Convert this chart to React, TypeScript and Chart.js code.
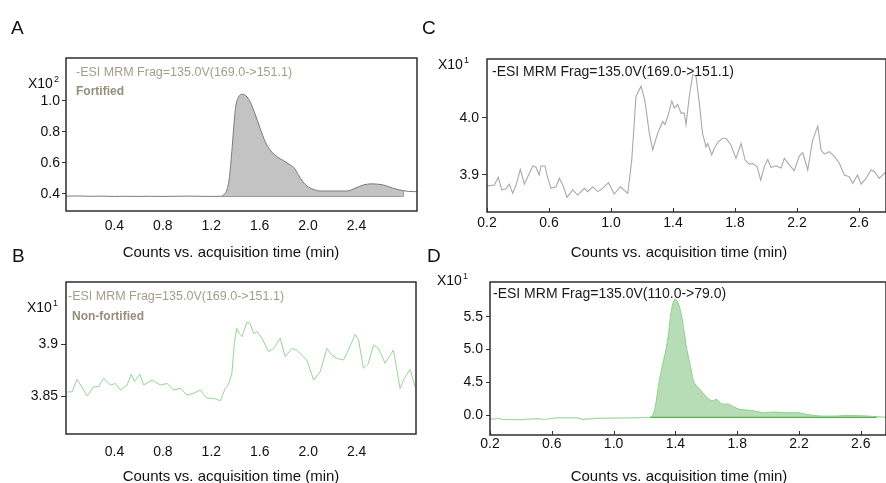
import React, { useEffect, useRef } from "react";
import { Chart, registerables } from "chart.js";

Chart.register(...registerables);

const FONT = "'Liberation Sans', Arial, Helvetica, sans-serif";
const W = 886;
const H = 483;
const YW = 40;
const XH = 30;

// ---------------- Panel A (Fortified, x10^2) ----------------
const A_TIME = [0, 0.1, 0.2, 0.3, 0.4, 0.5, 0.6, 0.7, 0.8, 0.9, 1.0, 1.1, 1.2, 1.288, 1.3, 1.329, 1.351, 1.37, 1.384, 1.4, 1.42, 1.453, 1.488, 1.52, 1.56, 1.604, 1.645, 1.686, 1.742, 1.797, 1.852, 1.888, 1.92, 1.956, 1.989, 2.044, 2.099, 2.2, 2.319, 2.374, 2.456, 2.525, 2.621, 2.703, 2.786, 2.868, 2.9];
const A_SIGNAL = [0.386, 0.387, 0.385, 0.386, 0.384, 0.385, 0.384, 0.385, 0.384, 0.385, 0.386, 0.385, 0.384, 0.385, 0.394, 0.426, 0.512, 0.673, 0.813, 0.953, 1.017, 1.043, 1.032, 0.996, 0.92, 0.824, 0.738, 0.684, 0.641, 0.615, 0.587, 0.566, 0.523, 0.48, 0.452, 0.43, 0.419, 0.419, 0.419, 0.432, 0.458, 0.465, 0.458, 0.437, 0.421, 0.415, 0.415];
const A_PEAK_START = 1.288;
const A_PEAK_END = 2.786;
const A_FILL_BASE = 0.384;
const A_MARK_TIME = [1.288, 2.319, 2.319, 2.319, 2.786, 2.786];
const A_MARK_SIGNAL = [0.384, 0.384, 0.419, 0.384, 0.384, 0.421];
const A_Y_TICKS = [0.4, 0.6, 0.8, 1.0];
const A_Y_LABELS = ["0.4", "0.6", "0.8", "1.0"];

// ---------------- Panel B (Non-fortified, x10^1) ----------------
const B_TIME = [0.01, 0.05, 0.09, 0.12, 0.175, 0.23, 0.27, 0.31, 0.367, 0.408, 0.45, 0.505, 0.538, 0.565, 0.609, 0.642, 0.711, 0.78, 0.835, 0.889, 0.944, 1.0, 1.054, 1.109, 1.164, 1.219, 1.274, 1.315, 1.343, 1.37, 1.39, 1.41, 1.43, 1.453, 1.494, 1.52, 1.549, 1.577, 1.618, 1.673, 1.714, 1.769, 1.81, 1.865, 1.907, 1.989, 2.044, 2.099, 2.154, 2.195, 2.237, 2.291, 2.332, 2.388, 2.415, 2.456, 2.497, 2.539, 2.58, 2.635, 2.704, 2.759, 2.786, 2.841, 2.882];
const B_SIGNAL = [3.854, 3.854, 3.866, 3.8606, 3.85, 3.859, 3.859, 3.867, 3.8606, 3.862, 3.8558, 3.8606, 3.871, 3.8638, 3.871, 3.8606, 3.8654, 3.8606, 3.862, 3.8558, 3.8574, 3.851, 3.8526, 3.8558, 3.8478, 3.8478, 3.8455, 3.8574, 3.8615, 3.8718, 3.9007, 3.915, 3.91, 3.907, 3.921, 3.92, 3.91, 3.912, 3.9055, 3.8926, 3.8958, 3.9055, 3.8878, 3.8958, 3.894, 3.8846, 3.8654, 3.8734, 3.8958, 3.8894, 3.8862, 3.8846, 3.8942, 3.9093, 3.9042, 3.8766, 3.8814, 3.899, 3.8958, 3.8814, 3.8942, 3.857, 3.8654, 3.8757, 3.859];
const B_Y_TICKS = [3.85, 3.9];
const B_Y_LABELS = ["3.85", "3.9"];

const AB_X_TICKS = [0.4, 0.8, 1.2, 1.6, 2.0, 2.4];
const AB_X_LABELS = ["0.4", "0.8", "1.2", "1.6", "2.0", "2.4"];

// ---------------- Panel C (x10^1) ----------------
const C_TIME = [0.2, 0.208, 0.247, 0.273, 0.295, 0.323, 0.344, 0.366, 0.387, 0.415, 0.441, 0.463, 0.495, 0.516, 0.537, 0.548, 0.574, 0.592, 0.613, 0.645, 0.667, 0.689, 0.716, 0.753, 0.785, 0.828, 0.85, 0.882, 0.914, 0.946, 0.983, 1.021, 1.06, 1.108, 1.134, 1.161, 1.194, 1.219, 1.247, 1.269, 1.301, 1.334, 1.348, 1.366, 1.392, 1.408, 1.43, 1.452, 1.473, 1.484, 1.505, 1.527, 1.548, 1.57, 1.59, 1.613, 1.624, 1.65, 1.667, 1.692, 1.72, 1.742, 1.774, 1.806, 1.839, 1.865, 1.892, 1.914, 1.942, 1.966, 1.989, 2.011, 2.032, 2.065, 2.097, 2.118, 2.15, 2.182, 2.215, 2.237, 2.269, 2.301, 2.334, 2.355, 2.376, 2.409, 2.441, 2.473, 2.505, 2.537, 2.559, 2.591, 2.613, 2.645, 2.677, 2.699, 2.731, 2.763, 2.78];
const C_SIGNAL = [3.882, 3.881, 3.8825, 3.896, 3.874, 3.876, 3.884, 3.868, 3.882, 3.91, 3.884, 3.897, 3.9158, 3.9135, 3.9, 3.9158, 3.9158, 3.894, 3.8767, 3.8795, 3.894, 3.8825, 3.861, 3.874, 3.865, 3.8767, 3.8709, 3.8795, 3.8709, 3.8767, 3.8866, 3.8667, 3.8795, 3.868, 3.9263, 4.037, 4.055, 4.029, 3.973, 3.944, 3.973, 3.993, 3.988, 4.002, 4.029, 4.017, 4.023, 4.008, 4.008, 3.988, 4.037, 4.075, 4.073, 4.025, 3.973, 3.949, 3.955, 3.935, 3.947, 3.958, 3.964, 3.964, 3.952, 3.929, 3.955, 3.926, 3.919, 3.92, 3.9146, 3.891, 3.9146, 3.9274, 3.913, 3.916, 3.912, 3.929, 3.9175, 3.9075, 3.933, 3.939, 3.9087, 3.961, 3.9855, 3.9436, 3.9366, 3.9407, 3.932, 3.9204, 3.9, 3.897, 3.8855, 3.9, 3.884, 3.894, 3.9087, 3.9058, 3.894, 3.903, 3.904];
const C_Y_TICKS = [3.9, 4.0];
const C_Y_LABELS = ["3.9", "4.0"];

// ---------------- Panel D (x10^1) ----------------
const D_TIME = [0.2, 0.254, 0.28, 0.4, 0.513, 0.55, 0.63, 0.77, 0.8, 0.89, 1.0, 1.1, 1.236, 1.255, 1.275, 1.294, 1.318, 1.339, 1.356, 1.368, 1.383, 1.397, 1.412, 1.43, 1.445, 1.46, 1.474, 1.497, 1.52, 1.555, 1.592, 1.624, 1.645, 1.667, 1.7, 1.743, 1.775, 1.818, 1.904, 1.969, 2.034, 2.12, 2.195, 2.25, 2.336, 2.444, 2.509, 2.638, 2.703, 2.763];
const D_SIGNAL = [3.934, 3.95, 3.934, 3.93, 3.945, 3.932, 3.955, 3.955, 3.934, 3.95, 3.952, 3.955, 3.965, 4.0, 4.2, 4.5, 4.78, 5.0, 5.25, 5.5, 5.7, 5.77, 5.74, 5.62, 5.45, 5.22, 5.0, 4.75, 4.5, 4.4, 4.3, 4.23, 4.22, 4.24, 4.168, 4.168, 4.127, 4.087, 4.066, 4.035, 4.046, 4.035, 4.035, 4.01, 3.985, 3.985, 3.995, 3.985, 3.975, 3.965];
const D_PEAK_START = 1.236;
const D_FILL_BASE = 3.965;
const D_MARK_TIME = [1.236, 2.703];
const D_MARK_SIGNAL = [3.965, 3.965];
const D_Y_TICKS = [4.0, 4.5, 5.0, 5.5];
const D_Y_LABELS = ["0.0", "4.5", "5.0", "5.5"];

const CD_X_TICKS = [0.2, 0.6, 1.0, 1.4, 1.8, 2.2, 2.6];
const CD_X_LABELS = ["0.2", "0.6", "1.0", "1.4", "1.8", "2.2", "2.6"];

const TITLE_AB = "-ESI MRM Frag=135.0V(169.0->151.1)";
const TITLE_C = "-ESI MRM Frag=135.0V(169.0->151.1)";
const TITLE_D = "-ESI MRM Frag=135.0V(110.0->79.0)";
const AXIS_TITLE = "Counts vs. acquisition time (min)";

const pts = (t: number[], y: number[]) => t.map((x, i) => ({ x, y: y[i] }));
const ptsRange = (t: number[], y: number[], a: number, b: number) =>
  pts(t, y).filter((p) => p.x >= a && p.x <= b);

type TextItem = { text: string; x: number; y: number; font: string; color: string; align?: CanvasTextAlign };

type PanelCfg = {
  area: { left: number; top: number; right: number; bottom: number };
  xMin: number; xMax: number; yMin: number; yMax: number;
  xTicks: number[]; xLabels: string[];
  yTicks: number[]; yLabels: string[];
  yTickLen: number; yPad: number; xPad: number;
  innerXTicks: boolean;
  datasets: any[];
  texts: TextItem[];
  exp: { x: number; y: number; pow: string };
};

function decorPlugin(cfg: PanelCfg) {
  return {
    id: "decor",
    afterDraw(chart: any) {
      const ctx: CanvasRenderingContext2D = chart.ctx;
      const a = chart.chartArea;
      ctx.save();
      ctx.strokeStyle = "#2e2e2e";
      ctx.lineWidth = 1.5;
      ctx.strokeRect(a.left, a.top, a.right - a.left, a.bottom - a.top);
      if (cfg.innerXTicks) {
        ctx.lineWidth = 1;
        const xs = chart.scales.x;
        cfg.xTicks.forEach((v) => {
          const px = Math.round(xs.getPixelForValue(v)) + 0.5;
          ctx.beginPath();
          ctx.moveTo(px, a.bottom);
          ctx.lineTo(px, a.bottom - 4);
          ctx.stroke();
        });
      }
      ctx.textBaseline = "alphabetic";
      cfg.texts.forEach((t) => {
        ctx.font = t.font;
        ctx.fillStyle = t.color;
        ctx.textAlign = t.align || "left";
        ctx.fillText(t.text, t.x, t.y);
      });
      ctx.textAlign = "left";
      ctx.fillStyle = "#111";
      ctx.font = `14px ${FONT}`;
      ctx.fillText("X10", cfg.exp.x, cfg.exp.y);
      const w = ctx.measureText("X10").width;
      ctx.font = `9px ${FONT}`;
      ctx.fillText(cfg.exp.pow, cfg.exp.x + w + 1, cfg.exp.y - 6);
      ctx.restore();
    },
  };
}

function buildConfig(cfg: PanelCfg): any {
  const a = cfg.area;
  return {
    type: "line",
    data: { datasets: cfg.datasets },
    options: {
      responsive: false,
      maintainAspectRatio: false,
      animation: false,
      devicePixelRatio: 1,
      events: [],
      layout: {
        padding: {
          left: a.left - YW,
          top: a.top,
          right: W - a.right,
          bottom: H - a.bottom - XH,
        },
      },
      plugins: { legend: { display: false }, tooltip: { enabled: false }, title: { display: false } },
      elements: { point: { radius: 0 } },
      scales: {
        x: {
          type: "linear",
          min: cfg.xMin,
          max: cfg.xMax,
          afterFit: (s: any) => { s.height = XH; },
          afterBuildTicks: (s: any) => { s.ticks = cfg.xTicks.map((v) => ({ value: v })); },
          ticks: {
            autoSkip: false,
            maxRotation: 0,
            callback: (_v: any, i: number) => cfg.xLabels[i],
            font: { family: FONT, size: 14 },
            color: "#111",
            padding: cfg.xPad,
          },
          grid: { display: false, drawTicks: false },
          border: { display: false },
        },
        y: {
          type: "linear",
          min: cfg.yMin,
          max: cfg.yMax,
          afterFit: (s: any) => { s.width = YW; },
          afterBuildTicks: (s: any) => { s.ticks = cfg.yTicks.map((v) => ({ value: v })); },
          ticks: {
            autoSkip: false,
            callback: (_v: any, i: number) => cfg.yLabels[i],
            font: { family: FONT, size: 14 },
            color: "#111",
            padding: cfg.yPad,
          },
          grid: { drawOnChartArea: false, drawTicks: true, tickLength: cfg.yTickLen, color: "#333", lineWidth: 1 },
          border: { display: false },
        },
      },
    },
    plugins: [decorPlugin(cfg)],
  };
}

const GREY_TXT = "#a39d8a";
const BOLD_TXT = "#948e7b";
const LETTER_FONT = `19px ${FONT}`;

const panelA: PanelCfg = {
  area: { left: 66, top: 58, right: 417, bottom: 211 },
  xMin: 0, xMax: 2.9, yMin: 0.29, yMax: 1.277,
  xTicks: AB_X_TICKS, xLabels: AB_X_LABELS,
  yTicks: A_Y_TICKS, yLabels: A_Y_LABELS,
  yTickLen: 4, yPad: 2, xPad: 7,
  innerXTicks: false,
  datasets: [
    {
      data: pts(A_TIME, A_SIGNAL),
      borderColor: "#7a7a7a",
      borderWidth: 1,
      cubicInterpolationMode: "monotone",
      fill: false,
    },
    {
      data: ptsRange(A_TIME, A_SIGNAL, A_PEAK_START, A_PEAK_END),
      borderWidth: 0,
      borderColor: "rgba(0,0,0,0)",
      backgroundColor: "#c3c3c3",
      cubicInterpolationMode: "monotone",
      fill: { value: A_FILL_BASE },
    },
    {
      data: pts(A_MARK_TIME, A_MARK_SIGNAL),
      borderColor: "#6e6e6e",
      borderWidth: 1,
      tension: 0,
      fill: false,
    },
  ],
  texts: [
    { text: "A", x: 11, y: 34, font: LETTER_FONT, color: "#111" },
    { text: TITLE_AB, x: 76, y: 76, font: `12.5px ${FONT}`, color: GREY_TXT },
    { text: "Fortified", x: 76, y: 95, font: `bold 12px ${FONT}`, color: BOLD_TXT },
    { text: AXIS_TITLE, x: 231, y: 257, font: `15px ${FONT}`, color: "#111", align: "center" },
  ],
  exp: { x: 28, y: 88, pow: "2" },
};

const panelB: PanelCfg = {
  area: { left: 66, top: 282, right: 416, bottom: 434 },
  xMin: 0, xMax: 2.89, yMin: 3.8135, yMax: 3.9596,
  xTicks: AB_X_TICKS, xLabels: AB_X_LABELS,
  yTicks: B_Y_TICKS, yLabels: B_Y_LABELS,
  yTickLen: 5, yPad: 3, xPad: 10,
  innerXTicks: false,
  datasets: [
    {
      data: pts(B_TIME, B_SIGNAL),
      borderColor: "#98d398",
      borderWidth: 1,
      tension: 0,
      fill: false,
    },
  ],
  texts: [
    { text: "B", x: 12, y: 262, font: LETTER_FONT, color: "#111" },
    { text: TITLE_AB, x: 68, y: 300, font: `12.5px ${FONT}`, color: GREY_TXT },
    { text: "Non-fortified", x: 72, y: 320, font: `bold 12px ${FONT}`, color: BOLD_TXT },
    { text: AXIS_TITLE, x: 231, y: 481, font: `15px ${FONT}`, color: "#111", align: "center" },
  ],
  exp: { x: 27, y: 312, pow: "1" },
};

const panelC: PanelCfg = {
  area: { left: 487, top: 59, right: 886, bottom: 212 },
  xMin: 0.2, xMax: 2.774, yMin: 3.8354, yMax: 4.1024,
  xTicks: CD_X_TICKS, xLabels: CD_X_LABELS,
  yTicks: C_Y_TICKS, yLabels: C_Y_LABELS,
  yTickLen: 5, yPad: 3, xPad: 3,
  innerXTicks: true,
  datasets: [
    {
      data: pts(C_TIME, C_SIGNAL),
      borderColor: "#a9a9a9",
      borderWidth: 1.1,
      tension: 0,
      fill: false,
    },
  ],
  texts: [
    { text: "C", x: 422, y: 34, font: LETTER_FONT, color: "#111" },
    { text: TITLE_C, x: 492, y: 76, font: `14px ${FONT}`, color: "#1a1a1a" },
    { text: AXIS_TITLE, x: 679, y: 257, font: `15px ${FONT}`, color: "#111", align: "center" },
  ],
  exp: { x: 438, y: 69, pow: "1" },
};

const panelD: PanelCfg = {
  area: { left: 490, top: 282, right: 886, bottom: 435 },
  xMin: 0.2, xMax: 2.763, yMin: 3.695, yMax: 6.03,
  xTicks: CD_X_TICKS, xLabels: CD_X_LABELS,
  yTicks: D_Y_TICKS, yLabels: D_Y_LABELS,
  yTickLen: 4, yPad: 3, xPad: 1,
  innerXTicks: true,
  datasets: [
    {
      data: ptsRange(D_TIME, D_SIGNAL, D_PEAK_START, 9),
      borderColor: "#8fcf8f",
      borderWidth: 1,
      backgroundColor: "rgba(111,187,111,0.5)",
      tension: 0.2,
      fill: { value: D_FILL_BASE },
    },
    {
      data: ptsRange(D_TIME, D_SIGNAL, 0, D_PEAK_START),
      borderColor: "#a6d9a6",
      borderWidth: 1.2,
      tension: 0,
      fill: false,
    },
    {
      data: pts(D_MARK_TIME, D_MARK_SIGNAL),
      borderColor: "#4eae4e",
      borderWidth: 1.2,
      tension: 0,
      fill: false,
    },
  ],
  texts: [
    { text: "D", x: 427, y: 262, font: LETTER_FONT, color: "#111" },
    { text: TITLE_D, x: 493, y: 298, font: `14px ${FONT}`, color: "#1a1a1a" },
    { text: AXIS_TITLE, x: 679, y: 481, font: `15px ${FONT}`, color: "#111", align: "center" },
  ],
  exp: { x: 437, y: 285, pow: "1" },
};

function Panel({ cfg }: { cfg: PanelCfg }) {
  const ref = useRef<HTMLCanvasElement | null>(null);
  useEffect(() => {
    if (!ref.current) return;
    const chart = new Chart(ref.current, buildConfig(cfg));
    return () => chart.destroy();
  }, [cfg]);
  return (
    <canvas
      ref={ref}
      width={W}
      height={H}
      style={{ position: "absolute", left: 0, top: 0, width: W, height: H }}
    />
  );
}

export default function App() {
  return (
    <div
      style={{
        position: "fixed",
        left: 0,
        top: 0,
        width: W,
        height: H,
        background: "#ffffff",
        overflow: "hidden",
      }}
    >
      <Panel cfg={panelA} />
      <Panel cfg={panelB} />
      <Panel cfg={panelC} />
      <Panel cfg={panelD} />
    </div>
  );
}
